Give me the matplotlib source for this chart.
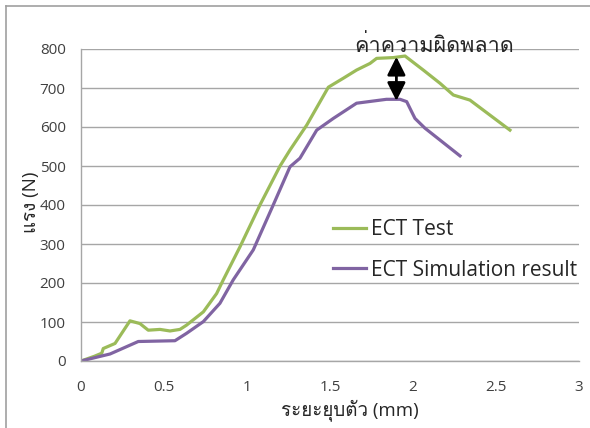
import matplotlib
matplotlib.use("Agg")
import matplotlib.pyplot as plt
from matplotlib.lines import Line2D
from matplotlib import font_manager
from matplotlib.ft2font import FT2Font

# Find an installed family that has Thai glyphs
thai_families = []
for fe in font_manager.fontManager.ttflist:
    try:
        cmap = FT2Font(fe.fname).get_charmap()
    except Exception:
        continue
    if 0x0E04 in cmap and 0x0E07 in cmap and fe.name not in thai_families:
        thai_families.append(fe.name)

families = ['Open Sans'] + thai_families + ['DejaVu Sans', 'Noto Sans']
plt.rcParams['font.family'] = families

# Data
test_x = [0, 0.08, 0.125, 0.134, 0.205, 0.295, 0.355, 0.405, 0.476, 0.536, 0.596, 0.636,
          0.737, 0.817, 0.857, 0.958, 1.078, 1.199, 1.259, 1.36, 1.49, 1.58, 1.66, 1.741,
          1.781, 1.882, 1.952, 2.062, 2.163, 2.243, 2.343, 2.584]
test_y = [0, 12, 20, 32, 45, 103, 96, 79, 81, 77, 81, 92,
          126, 173, 208, 293, 400, 500, 541, 605, 702, 725, 746, 763,
          776, 778, 782, 746, 712, 682, 669, 592]

sim_x = [0, 0.175, 0.345, 0.566, 0.636, 0.737, 0.837, 0.917, 1.038, 1.158, 1.259, 1.319,
         1.42, 1.52, 1.66, 1.84, 1.922, 1.962, 1.992, 2.012, 2.072, 2.283]
sim_y = [0, 18, 50, 52, 71, 101, 148, 208, 285, 400, 498, 520,
         592, 622, 661, 671, 671, 665, 639, 622, 597, 526]

series_names = ["ECT Test", "ECT Simulation result"]
x_label = "ระยะยุบตัว (mm)"
y_label = "แรง (N)"
note = "ค่าความผิดพลาด"
arrow_x = 1.90
arrow_top = 780
arrow_bottom = 667

green = "#9BBB59"
purple = "#8064A2"

fig = plt.figure(figsize=(5.9, 4.28), dpi=100)
ax = fig.add_axes([81/590, 1-361/428, (579-81)/590, (361-49)/428])

ax.plot(test_x, test_y, color=green, lw=2.3, label=series_names[0], solid_joinstyle='round')
ax.plot(sim_x, sim_y, color=purple, lw=2.3, label=series_names[1], solid_joinstyle='round')

ax.set_xlim(0, 3)
ax.set_ylim(0, 800)
ax.set_xticks([0, 0.5, 1, 1.5, 2, 2.5, 3])
ax.set_xticklabels(["0", "0.5", "1", "1.5", "2", "2.5", "3"])
ax.set_yticks(range(0, 801, 100))
ax.tick_params(length=0, labelsize=11, colors="#404040")
ax.tick_params(axis='x', pad=14)
ax.tick_params(axis='y', pad=11)
ax.yaxis.grid(True, color="#A6A6A6", lw=1)
ax.set_axisbelow(True)
for s in ["top", "right"]:
    ax.spines[s].set_visible(False)
for s in ["left", "bottom"]:
    ax.spines[s].set_color("#A6A6A6")
    ax.spines[s].set_linewidth(1)

ax.set_xlabel(x_label, fontsize=13.5, color="#262626")
ax.set_ylabel(y_label, fontsize=13.5, color="#262626")
ax.xaxis.set_label_coords(0.54, -0.122)
ax.yaxis.set_label_coords(-0.082, 0.51)

ax.annotate("", xy=(arrow_x, arrow_bottom), xytext=(arrow_x, arrow_top),
            arrowprops=dict(arrowstyle="<|-|>,head_length=1.1,head_width=0.55", color="black", lw=2.0,
                            mutation_scale=10, shrinkA=0, shrinkB=0))
ax.text(2.127, 808, note, fontsize=15.5, ha="center", va="center", color="#262626")

leg = ax.legend(loc="upper left", bbox_to_anchor=((333-81)/498 + 0.001, 1-(219-49)/312),
                frameon=False, fontsize=15, handlelength=1.55, handletextpad=0.25,
                labelspacing=0.95, borderpad=0, borderaxespad=0)
for t in leg.get_texts():
    t.set_color("#262626")

# Outer chart border (left and top edges visible)
fig.add_artist(Line2D([6/590, 6/590], [0, 1-6/428], transform=fig.transFigure, color="#A0A0A0", lw=1.2))
fig.add_artist(Line2D([6/590, 1], [1-6/428, 1-6/428], transform=fig.transFigure, color="#A0A0A0", lw=1.2))

fig.savefig("out.png", dpi=100)
